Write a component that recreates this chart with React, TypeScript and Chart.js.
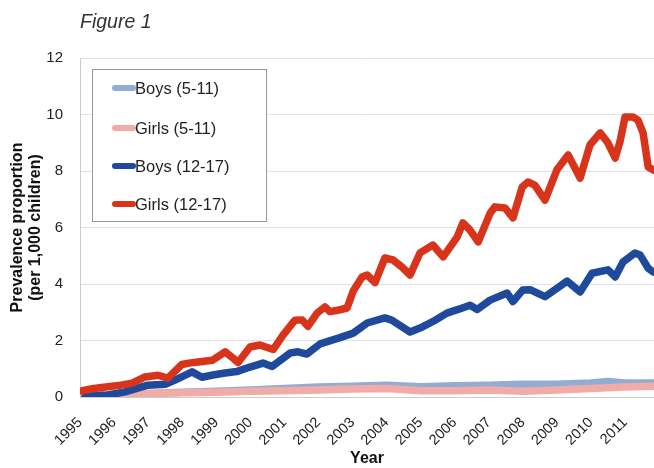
import React, { useEffect, useRef } from "react";
import { Chart, registerables } from "chart.js";

Chart.register(...registerables);

// ---- Data ----
const yearTicks = [1995, 1996, 1997, 1998, 1999, 2000, 2001, 2002, 2003, 2004, 2005, 2006, 2007, 2008, 2009, 2010, 2011];

const girls1217Years = [1995.06, 1995.4, 1995.82, 1996.2, 1996.53, 1996.91, 1997.29, 1997.58, 1997.99, 1998.2, 1998.46, 1998.88, 1999.26, 1999.52, 1999.64, 1999.99, 2000.28, 2000.67, 2000.96, 2001.31, 2001.52, 2001.69, 2001.96, 2002.19, 2002.34, 2002.6, 2002.84, 2003.02, 2003.28, 2003.43, 2003.66, 2003.95, 2004.19, 2004.45, 2004.69, 2004.98, 2005.36, 2005.66, 2006.07, 2006.24, 2006.45, 2006.69, 2007.04, 2007.18, 2007.48, 2007.71, 2007.98, 2008.15, 2008.35, 2008.65, 2009.0, 2009.33, 2009.68, 2009.97, 2010.27, 2010.5, 2010.71, 2010.85, 2011.0, 2011.24, 2011.38, 2011.53, 2011.68, 2011.82, 2011.9];
const girls1217Values = [0.22, 0.3, 0.36, 0.42, 0.49, 0.71, 0.77, 0.67, 1.15, 1.2, 1.24, 1.3, 1.6, 1.35, 1.22, 1.77, 1.84, 1.68, 2.19, 2.72, 2.73, 2.5, 2.97, 3.19, 3.02, 3.08, 3.15, 3.75, 4.25, 4.32, 4.05, 4.92, 4.85, 4.6, 4.32, 5.1, 5.38, 4.96, 5.66, 6.16, 5.91, 5.49, 6.51, 6.73, 6.69, 6.34, 7.43, 7.61, 7.5, 6.97, 8.04, 8.57, 7.75, 8.92, 9.35, 8.99, 8.46, 9.03, 9.91, 9.91, 9.8, 9.35, 8.14, 8.04, 8.0];

const boys1217Years = [1995.15, 1995.5, 1995.82, 1996.32, 1996.99, 1997.5, 1997.79, 1998.29, 1998.58, 1998.9, 1999.26, 1999.6, 1999.99, 2000.37, 2000.64, 2001.17, 2001.4, 2001.66, 2002.05, 2002.63, 2003.02, 2003.43, 2003.95, 2004.15, 2004.69, 2004.98, 2005.4, 2005.77, 2006.1, 2006.45, 2006.66, 2007.04, 2007.54, 2007.71, 2008.0, 2008.21, 2008.65, 2009.3, 2009.68, 2010.03, 2010.5, 2010.71, 2010.94, 2011.29, 2011.44, 2011.68, 2011.82, 2011.9];
const boys1217Values = [0.03, 0.05, 0.07, 0.18, 0.42, 0.45, 0.6, 0.89, 0.7, 0.78, 0.85, 0.9, 1.06, 1.2, 1.08, 1.56, 1.6, 1.52, 1.88, 2.1, 2.26, 2.62, 2.8, 2.72, 2.3, 2.44, 2.7, 2.97, 3.1, 3.25, 3.1, 3.43, 3.68, 3.38, 3.79, 3.8, 3.55, 4.1, 3.72, 4.38, 4.5, 4.25, 4.78, 5.1, 5.03, 4.56, 4.43, 4.4];

const boys511Years = [1995.1, 1996, 1997, 1998, 1999, 2000, 2001, 2002, 2003, 2004, 2005, 2006, 2007, 2008, 2009, 2010, 2010.5, 2011, 2011.9];
const boys511Values = [0.0, 0.05, 0.12, 0.17, 0.2, 0.25, 0.3, 0.35, 0.38, 0.42, 0.36, 0.4, 0.42, 0.45, 0.45, 0.5, 0.55, 0.5, 0.5];

const girls511Years = [1995.1, 1996, 1997, 1998, 1999, 2000, 2001, 2002, 2003, 2004, 2005, 2006, 2007, 2008, 2009, 2010, 2011, 2011.9];
const girls511Values = [0.05, 0.08, 0.12, 0.15, 0.17, 0.2, 0.22, 0.25, 0.28, 0.3, 0.22, 0.22, 0.25, 0.2, 0.25, 0.3, 0.35, 0.38];

const seriesLabels = ["Boys (5-11)", "Girls (5-11)", "Boys (12-17)", "Girls (12-17)"];
const seriesColors = ["#93acd4", "#f1aca7", "#1f4a9b", "#d8341b"];

const toPoints = (xs: number[], ys: number[]) => xs.map((x, i) => ({ x, y: ys[i] }));

const FONT = "'Liberation Sans', Arial, Helvetica, sans-serif";

const overlayPlugin = {
  id: "overlay",
  afterDraw(chart: any) {
    const { ctx, chartArea } = chart;
    ctx.save();
    // Figure title
    ctx.fillStyle = "#333";
    ctx.font = `italic 19.5px ${FONT}`;
    ctx.textBaseline = "middle";
    ctx.textAlign = "left";
    ctx.fillText("Figure 1", chartArea.left, 23);

    // Legend box
    const bx = chartArea.left + 12;
    const by = chartArea.top + 11;
    ctx.fillStyle = "#ffffff";
    ctx.fillRect(bx, by, 174, 152);
    ctx.strokeStyle = "#999999";
    ctx.lineWidth = 1;
    ctx.strokeRect(bx + 0.5, by + 0.5, 174, 152);
    const rows = [88, 128, 166, 204];
    chart.data.datasets.forEach((ds: any, i: number) => {
      const y = rows[i];
      ctx.strokeStyle = ds.borderColor;
      ctx.lineWidth = 6;
      ctx.lineCap = "round";
      ctx.beginPath();
      ctx.moveTo(bx + 23, y);
      ctx.lineTo(bx + 41, y);
      ctx.stroke();
      ctx.fillStyle = "#222";
      ctx.font = `16.5px ${FONT}`;
      ctx.textBaseline = "middle";
      ctx.fillText(ds.label, bx + 43, y + 1);
    });
    ctx.restore();
  },
};

export default function App() {
  const ref = useRef<HTMLCanvasElement | null>(null);

  useEffect(() => {
    if (!ref.current) return;
    const chart = new Chart(ref.current, {
      type: "line",
      data: {
        datasets: [
          { label: seriesLabels[0], data: toPoints(boys511Years, boys511Values), borderColor: seriesColors[0], order: 4 },
          { label: seriesLabels[1], data: toPoints(girls511Years, girls511Values), borderColor: seriesColors[1], order: 3 },
          { label: seriesLabels[2], data: toPoints(boys1217Years, boys1217Values), borderColor: seriesColors[2], order: 2 },
          { label: seriesLabels[3], data: toPoints(girls1217Years, girls1217Values), borderColor: seriesColors[3], order: 1 },
        ].map((d) => ({
          ...d,
          borderWidth: 7.5,
          pointRadius: 0,
          tension: 0,
          fill: false,
          borderJoinStyle: "round" as const,
          borderCapStyle: "round" as const,
        })),
      },
      options: {
        animation: false,
        responsive: false,
        layout: { padding: { top: 58, left: 0, right: 0, bottom: 0 } },
        plugins: {
          legend: { display: false },
          tooltip: { enabled: false },
        },
        scales: {
          x: {
            type: "linear",
            min: yearTicks[0],
            max: 2011.85,
            afterFit: (s: any) => { s.height = 71; },
            afterBuildTicks: (s: any) => { s.ticks = yearTicks.map((v) => ({ value: v })); },
            grid: { display: false },
            border: { display: true, color: "#cccccc" },
            ticks: {
              minRotation: 45,
              maxRotation: 45,
              color: "#222",
              font: { family: FONT, size: 14.5 },
              padding: 9,
              callback: (v: any) => String(v),
            },
            title: {
              display: true,
              text: "Year",
              color: "#111",
              font: { family: FONT, size: 16, weight: "bold" },
              padding: { top: 0, bottom: 0 },
            },
          },
          y: {
            min: 0,
            max: 12,
            afterFit: (s: any) => { s.width = 80; },
            grid: { color: "#e2e2e2", drawTicks: false },
            border: { display: true, color: "#cccccc" },
            ticks: {
              stepSize: 2,
              color: "#222",
              padding: 17,
              font: { family: FONT, size: 15 },
            },
            title: {
              display: true,
              text: ["Prevalence proportion", "(per 1,000 children)"],
              color: "#111",
              font: { family: FONT, size: 16, weight: "bold", lineHeight: 1.1 },
              padding: { top: 9, bottom: 0 },
            },
          },
        },
      },
      plugins: [overlayPlugin],
    });
    return () => chart.destroy();
  }, []);

  return (
    <div style={{ position: "fixed", left: 0, top: 0, width: 654, height: 468, background: "#fff" }}>
      <canvas ref={ref} width={654} height={468} style={{ width: 654, height: 468, display: "block" }} />
    </div>
  );
}
